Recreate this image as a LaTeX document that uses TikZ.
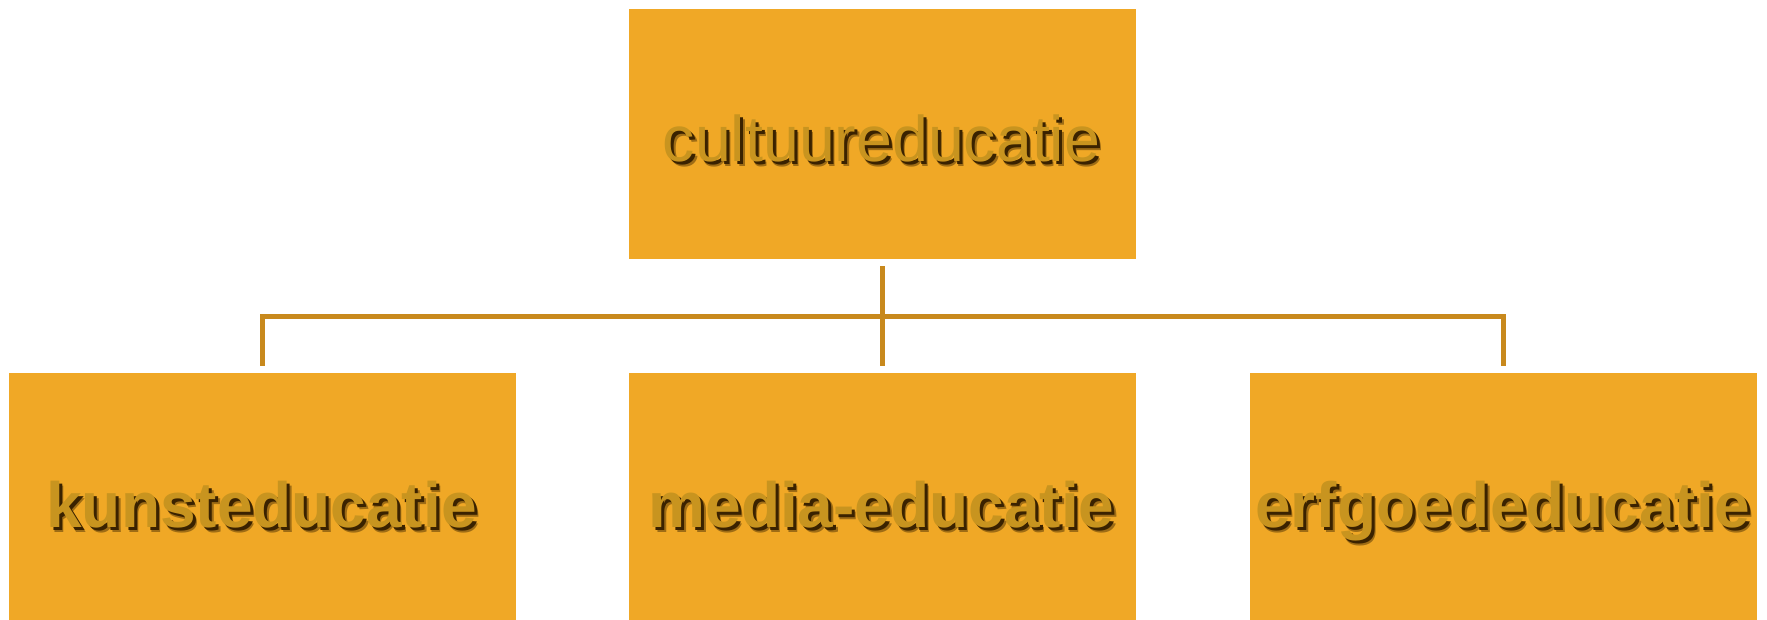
\documentclass[tikz,border=0pt]{standalone}
\usepackage{fontspec}
\setmainfont{Liberation Sans}
\definecolor{boxfill}{HTML}{F0A826}
\definecolor{txtcol}{HTML}{C8941F}
\definecolor{shadcol}{HTML}{3A2200}
\colorlet{shadB}{shadcol!45!boxfill}
\definecolor{linecol}{HTML}{C8891D}
\newcommand\shtext[1]{\rlap{\hspace{4.5pt}\raisebox{-4.5pt}{\color{shadB}#1}}\rlap{\hspace{3pt}\raisebox{-3pt}{\color{shadcol}#1}}{\color{txtcol}#1}}
\begin{document}
\begin{tikzpicture}[x=1pt,y=1pt,
  box/.style={rectangle, fill=boxfill, draw=none, minimum width=507pt, inner sep=0pt},
  toptxt/.style={font=\fontsize{64.5}{70}\selectfont, anchor=base, inner sep=0pt},
  bottxt/.style={font=\fontsize{64}{70}\selectfont\bfseries, anchor=base, inner sep=0pt},
  conn/.style={draw=linecol, line width=5pt}]
\useasboundingbox (0,0) rectangle (1767,620);
\fill[white] (0,0) rectangle (1767,620);
% boxes
\node[box, minimum height=250pt] (top) at (882.5,486) {};
\node[box, minimum height=247pt] (left) at (262.5,123.5) {};
\node[box, minimum height=247pt] (mid) at (882.5,123.5) {};
\node[box, minimum height=247pt] (right) at (1503.5,123.5) {};
% texts with shadows
\node[toptxt] (top-label) at ([xshift=-1pt,yshift=-28pt]top.center) {\shtext{cultuureducatie}};
\node[bottxt] (left-label) at ([xshift=-1pt,yshift=-31.5pt]left.center) {\shtext{kunsteducatie}};
\node[bottxt] (mid-label) at ([xshift=-1pt,yshift=-31.5pt]mid.center) {\shtext{media-educatie}};
\node[bottxt] (right-label) at ([xshift=-1pt,yshift=-31.5pt]right.center) {\shtext{erfgoededucatie}};
% connectors
\coordinate (bus) at ([yshift=-57pt]top.south);
\draw[conn] ([yshift=-7pt]top.south) -- ([yshift=7pt]mid.north);
\draw[conn, line join=miter] ([yshift=7pt]left.north) |- (bus) -| ([yshift=7pt]right.north);
\end{tikzpicture}
\end{document}
